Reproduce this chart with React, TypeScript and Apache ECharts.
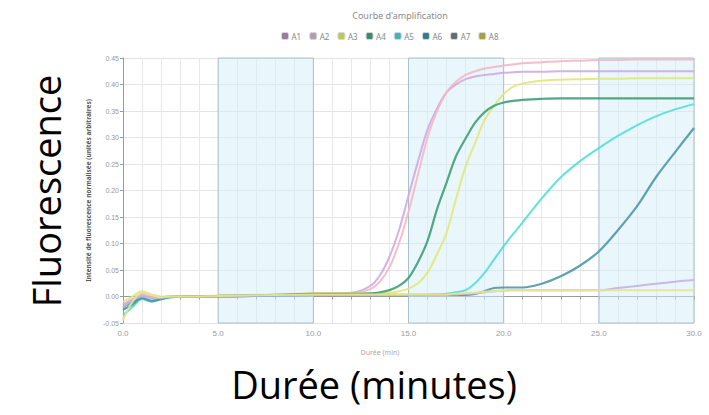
import React, { useEffect, useRef } from "react";
import * as echarts from "echarts";

const titleText = "Courbe d'amplification";
const yAxisTitle = "Intensité de fluorescence normalisée (unités arbitraires)";
const xAxisTitle = "Durée (min)";
const bigYLabel = "Fluorescence";
const bigXLabel = "Durée (minutes)";

const times = [0, 0.5, 1, 1.5, 2, 2.5, 3, 5, 8, 10, 12, 13, 13.5, 14, 14.5, 15, 15.5, 16, 16.5, 17, 17.5, 18, 18.5, 19, 19.5, 20, 20.5, 21, 22, 23, 24, 25, 26, 27, 28, 29, 30];

const a1 = [-0.015, -0.005, 0.003, -0.003, -0.002, 0.0, 0.0, 0.001, 0.003, 0.005, 0.007, 0.02, 0.04, 0.075, 0.125, 0.19, 0.255, 0.315, 0.355, 0.385, 0.4, 0.41, 0.415, 0.418, 0.42, 0.422, 0.423, 0.424, 0.424, 0.425, 0.425, 0.425, 0.425, 0.425, 0.425, 0.425, 0.425];
const a2 = [-0.04, -0.015, 0.005, 0.0, -0.003, 0.0, 0.0, 0.001, 0.003, 0.005, 0.006, 0.014, 0.028, 0.055, 0.1, 0.16, 0.23, 0.3, 0.35, 0.385, 0.405, 0.418, 0.425, 0.43, 0.433, 0.436, 0.438, 0.44, 0.442, 0.444, 0.445, 0.446, 0.446, 0.447, 0.447, 0.447, 0.447];
const a3 = [-0.01, 0.0, 0.01, 0.004, 0.0, 0.001, 0.0, 0.002, 0.004, 0.006, 0.006, 0.006, 0.006, 0.007, 0.01, 0.015, 0.025, 0.045, 0.08, 0.12, 0.185, 0.245, 0.29, 0.333, 0.36, 0.382, 0.396, 0.402, 0.407, 0.409, 0.41, 0.411, 0.411, 0.412, 0.412, 0.412, 0.412];
const a4 = [-0.02, -0.01, -0.002, -0.008, -0.004, -0.001, 0.0, 0.001, 0.003, 0.005, 0.005, 0.006, 0.008, 0.012, 0.02, 0.035, 0.065, 0.105, 0.165, 0.215, 0.265, 0.298, 0.328, 0.348, 0.36, 0.366, 0.369, 0.371, 0.373, 0.374, 0.374, 0.374, 0.374, 0.374, 0.374, 0.374, 0.374];
const a5 = [-0.035, -0.02, -0.005, -0.01, -0.005, -0.002, 0.0, 0.0, 0.002, 0.003, 0.003, 0.003, 0.003, 0.003, 0.003, 0.003, 0.003, 0.003, 0.004, 0.005, 0.008, 0.012, 0.025, 0.045, 0.07, 0.095, 0.118, 0.14, 0.185, 0.225, 0.255, 0.28, 0.303, 0.323, 0.34, 0.353, 0.363];
const a6 = [-0.025, -0.015, -0.003, -0.009, -0.005, -0.001, 0.0, 0.0, 0.002, 0.003, 0.003, 0.003, 0.003, 0.003, 0.003, 0.003, 0.003, 0.003, 0.003, 0.003, 0.003, 0.003, 0.005, 0.01, 0.016, 0.017, 0.017, 0.017, 0.024, 0.038, 0.058, 0.085, 0.125, 0.17, 0.225, 0.272, 0.318];
const a7 = [-0.02, -0.008, 0.0, -0.004, -0.002, 0.0, 0.0, 0.001, 0.002, 0.003, 0.003, 0.003, 0.003, 0.003, 0.003, 0.003, 0.003, 0.003, 0.003, 0.003, 0.004, 0.005, 0.006, 0.008, 0.01, 0.011, 0.012, 0.012, 0.012, 0.012, 0.012, 0.012, 0.016, 0.02, 0.024, 0.028, 0.031];
const a8 = [-0.045, -0.01, 0.008, 0.003, -0.002, 0.0, 0.0, 0.001, 0.003, 0.004, 0.004, 0.004, 0.004, 0.004, 0.004, 0.004, 0.004, 0.004, 0.004, 0.004, 0.005, 0.006, 0.007, 0.009, 0.01, 0.011, 0.012, 0.012, 0.012, 0.012, 0.012, 0.012, 0.012, 0.012, 0.012, 0.012, 0.012];

const seriesNames = ["A1", "A2", "A3", "A4", "A5", "A6", "A7", "A8"];
const seriesValues = [a1, a2, a3, a4, a5, a6, a7, a8];
const lineColors = ["#d2a9e2", "#f2b7c4", "#e0e878", "#3f9e74", "#4fe0d6", "#4f97a8", "#c3b3e3", "#e6e68a"];
const legendColors = ["#9c7aa3", "#b0a0ae", "#b9c95a", "#3d8a6b", "#40b5b5", "#2f7d8e", "#656c75", "#a3a342"];

const shadedRanges = [[5, 10], [15, 20], [25, 30]];

export default function App() {
  const ref = useRef<HTMLDivElement>(null);
  useEffect(() => {
    if (!ref.current) return;
    const chart = echarts.init(ref.current, null, { renderer: "svg" });
    const series: any[] = seriesNames.map((name, k) => ({
      name,
      type: "line",
      data: times.map((t, i) => [t, seriesValues[k][i]]),
      showSymbol: false,
      symbol: "none",
      smooth: 0.35,
      itemStyle: { color: legendColors[k] },
      lineStyle: { color: lineColors[k], width: k === 3 || k === 5 ? 2.2 : 2, opacity: 0.9 },
      z: 3,
    }));
    series.unshift({
      name: "__areas",
      type: "line",
      data: [],
      silent: true,
      markArea: {
        silent: true,
        itemStyle: { color: "rgba(212,240,250,0.5)", borderColor: "#a9c1ca", borderWidth: 1 },
        data: shadedRanges.map(([a, b]) => [{ xAxis: a }, { xAxis: b }]),
      },
      z: 1,
    });
    chart.setOption({
      animation: false,
      backgroundColor: "#ffffff",
      title: {
        text: titleText,
        left: 395,
        textAlign: "center",
        top: 6,
        textStyle: { fontSize: 9, color: "#8a8a8a", fontWeight: "normal", fontFamily: "Noto Sans" },
      },
      legend: {
        data: seriesNames.map((n, k) => ({
          name: n,
          itemStyle: { color: legendColors[k], borderColor: "#d8d8d8", borderWidth: 1 },
        })),
        left: 276,
        top: 27,
        icon: "roundRect",
        itemWidth: 7,
        itemHeight: 7,
        itemGap: 8,
        textStyle: { fontSize: 8, color: "#888", fontFamily: "Noto Sans", padding: [0, 0, 0, -2] },
      },
      grid: { left: 123, right: 15, top: 58, bottom: 92, containLabel: false },
      xAxis: {
        type: "value",
        min: 0,
        max: 30,
        interval: 1,
        axisLine: { lineStyle: { color: "#9a9a9a" } },
        axisTick: { show: true, length: 3, lineStyle: { color: "#9a9a9a" } },
        axisLabel: {
          fontSize: 8,
          color: "#999",
          margin: 6,
          formatter: (v: number) => (v % 5 === 0 ? v.toFixed(1) : ""),
        },
        splitLine: { show: true, lineStyle: { color: "#e8e8e8", width: 1 } },
      },
      yAxis: {
        type: "value",
        min: -0.05,
        max: 0.45,
        interval: 0.05,
        name: yAxisTitle,
        nameLocation: "middle",
        nameGap: 28,
        nameTextStyle: { fontSize: 6.5, color: "#555", fontWeight: "bold", fontFamily: "Noto Sans" },
        axisLine: { show: true, lineStyle: { color: "#9a9a9a" } },
        axisTick: { show: true, length: 3, lineStyle: { color: "#9a9a9a" } },
        axisLabel: {
          fontSize: 7,
          color: "#999",
          margin: 4,
          formatter: (v: number) => v.toFixed(2),
        },
        splitLine: { show: true, lineStyle: { color: "#e3e3e3", width: 1 } },
      },
      graphic: [
        {
          type: "text",
          x: 380,
          y: 352,
          style: { text: xAxisTitle, fontSize: 7, fill: "#aaa", align: "center", verticalAlign: "middle", fontFamily: "Noto Sans" },
        },
        {
          type: "text",
          x: 46,
          y: 191,
          rotation: Math.PI / 2,
          style: { text: bigYLabel, fontSize: 38, fill: "#000", align: "center", verticalAlign: "middle", fontFamily: "Open Sans" },
        },
        {
          type: "text",
          x: 374,
          y: 384,
          style: { text: bigXLabel, fontSize: 38, fill: "#000", align: "center", verticalAlign: "middle", fontFamily: "Open Sans" },
        },
      ],
      series,
    });
    return () => chart.dispose();
  }, []);
  return (
    <div
      ref={ref}
      style={{ position: "fixed", left: 0, top: 0, width: 709, height: 415, background: "#fff" }}
    />
  );
}
